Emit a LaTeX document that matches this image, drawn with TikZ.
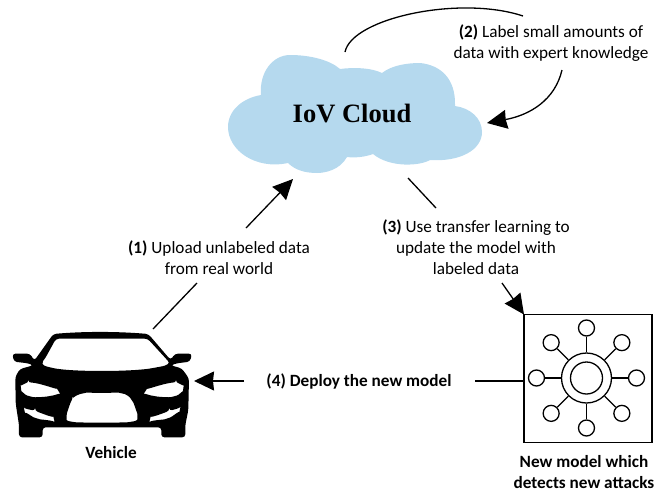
\documentclass[tikz,border=0pt]{standalone}
\usepackage{fontspec}
\setmainfont{Carlito}
\newfontfamily\cloudfont{Liberation Serif}
\usetikzlibrary{positioning,arrows.meta}

\begin{document}
\begin{tikzpicture}[
    x=1pt, y=-1pt,
 mylabel/.style = {
        align=center, inner sep=0pt, outer sep=0pt,
        font=\fontsize{17.2}{21}\selectfont},
boldlabel/.style = {
        mylabel, font=\fontsize{17.2}{21}\selectfont\bfseries},
    line/.style = {line width=1.3pt},
   arrow/.style = {line width=1.3pt,-{Stealth[length=20pt,width=19pt,inset=1pt]}},
 satnode/.style = {
        draw, circle, line width=1.3pt, minimum size=16pt, inner sep=0pt},
 hubnode/.style = {
        draw, circle, line width=1.3pt, inner sep=0pt}
                    ]
\useasboundingbox (0,0) rectangle (670,493);
% the cloud
\fill[fill={rgb,255:red,181;green,217;blue,238}]
    (261,95) .. controls (259,72) and (273,55) .. (290,55)
    .. controls (310,55) and (330,60) .. (340,69)
    .. controls (355,67) and (372,68) .. (382,73)
    .. controls (392,65) and (408,63) .. (420,63)
    .. controls (440,65) and (456,78) .. (455,106)
    .. controls (470,108) and (482,118) .. (482,132)
    .. controls (482,150) and (460,162) .. (430,160)
    .. controls (420,166) and (390,168) .. (373,154)
    .. controls (365,157) and (355,158) .. (347,157)
    .. controls (340,170) and (325,173) .. (317,173)
    .. controls (305,173) and (295,170) .. (288,163)
    .. controls (255,170) and (228,150) .. (228,127)
    .. controls (228,110) and (243,98) .. (261,95) -- cycle;
\node (cloud) at (352,114) [font=\cloudfont\fontsize{26.5}{30}\selectfont\bfseries,
                            inner sep=0pt] {IoV Cloud};
% the vehicle
\begin{scope}[shift={(0,310)},x=0.3333pt,y=-0.3333pt]
\fill[even odd rule,rounded corners=3pt]
    (160,72) .. controls (250,64) and (350,64) .. (445,72)
    -- (512,150) -- (525,131) -- (576,131) -- (570,155) -- (530,160) -- (512,166)
    -- (545,175) -- (567,205) -- (565,300) -- (556,345) -- (556,382) -- (484,382)
    -- (484,352) -- (128,352) -- (128,382) -- (57,382) -- (57,345) -- (47,280)
    -- (46,200) -- (60,177) -- (100,166) -- (85,160) -- (42,155) -- (37,131)
    -- (90,131) -- (103,152) -- cycle
    % windshield, lights and grille
    (168,86) -- (443,86) -- (498,146)
    .. controls (510,160) and (505,166) .. (470,172)
    .. controls (400,186) and (210,186) .. (150,172)
    .. controls (125,166) and (125,158) .. (135,146) -- cycle
    plot[smooth cycle,tension=0.6] coordinates {(63,235) (85,219) (130,225) (176,244)
        (150,258) (90,259)}
    plot[smooth cycle,tension=0.6] coordinates {(550,235) (528,219) (483,225) (436,244)
        (462,258) (522,259)}
    plot[smooth cycle,tension=0.5] coordinates {(73,300) (105,303) (162,328) (110,325)}
    plot[smooth cycle,tension=0.5] coordinates {(540,298) (508,303) (450,328) (503,325)}
    plot[smooth cycle,tension=0.5] coordinates {(200,320) (218,268) (250,250) (305,249)
        (365,250) (395,270) (412,320) (395,335) (305,338) (215,335)};
\end{scope}
\node (vehicle) at (111,453) [boldlabel] {Vehicle};
% the new model
\node (model) at (588,378.5) [draw, line width=1.3pt, minimum size=128pt,
                              inner sep=0pt, outer sep=0pt] {};
\node (hub) at (586.5,378) [hubnode, minimum size=50pt] {};
\node (core) at (hub.center) [hubnode, minimum size=32pt] {};
\foreach \a in {0,45,...,315}
{
\node (sat\a) at ([shift={(\a:50pt)}]hub.center) [satnode] {};
\draw[line] (hub) -- (sat\a);
}
\node (newmodel) at (584,472.5) [boldlabel] {New model which\\ detects new attacks};
% the labels
\node (upload) at (219,257.5) [mylabel] {\textbf{(1)} Upload unlabeled data\\ from real world};
\node (expert) at (551,43.5)  [mylabel] {\textbf{(2)} Label small amounts of\\ data with expert knowledge};
\node (transfer) at (476,247) [mylabel] {\textbf{(3)} Use transfer learning to\\ update the model with\\ labeled data};
\node (deploy) at (359,381)   [boldlabel] {(4) Deploy the new model};
% free ends of the lines
\coordinate (roof)    at (153,329);
\coordinate (up1)     at (197,283);
\coordinate (up2)     at (246,228);
\coordinate (uptip)   at (293,179);
\coordinate (loopa)   at (345,52);
\coordinate (loopb)   at (523,16);
\coordinate (loopc)   at (562,70);
\coordinate (looptip) at (487,123);
\coordinate (down1)   at (408,178);
\coordinate (down2)   at (436,208);
\coordinate (down3)   at (502,283);
\coordinate (car)     at (194,381);
\coordinate (back1)   at (244,381);
\coordinate (back2)   at (475,381);
\coordinate (modelw)  at (model.west |- back2);
% the lines
\draw[line]  (roof) -- (up1);
\draw[arrow] (up2) -- (uptip);
\draw[line]  (loopa) .. controls (352,18) and (460,-5) .. (loopb);
\draw[arrow] (loopc) .. controls (555,100) and (530,115) .. (looptip);
\draw[line]  (down1) -- (down2);
\draw[arrow] (down3) -- (model.north west);
\draw[arrow] (back1) -- (car);
\draw[line]  (back2) -- (modelw);
\end{tikzpicture}
\end{document}
